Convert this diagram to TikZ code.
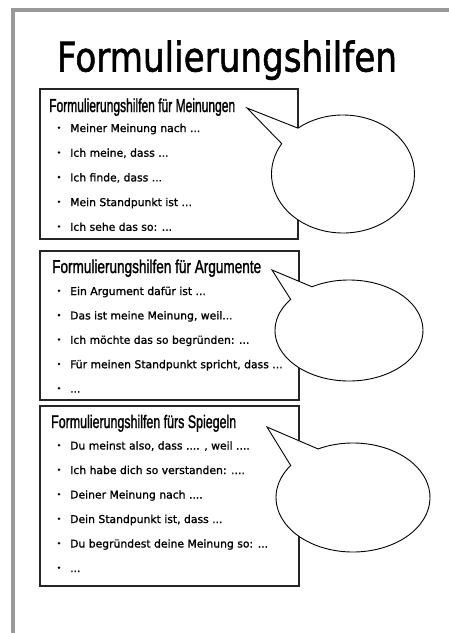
\documentclass[tikz,border=0pt]{standalone}
\usepackage{fontspec}
\usepackage{graphicx}
\setmainfont{DejaVu Sans}
\newfontfamily\headfont[FakeBold=1.6]{Liberation Sans}
\newfontfamily\bodyfont[FakeBold=1.2]{DejaVu Sans}
\newfontfamily\titlefont[FakeBold=1.5]{DejaVu Sans}
% one bullet line: name, baseline y, text
\newcommand\bulletline[3]{%
  \node[bulletdot] (d#1) at (59,#2-4.3) {};
  \node[itemtext] (t#1) at (70,#2) {#3};}
\begin{document}
\begin{tikzpicture}[x=1pt,y=-1pt,
  framebar/.style={fill=black!40, draw=none},
  boxframe/.style={draw=black!85, line width=1.6pt},
  bubble/.style={draw=black, fill=white, line width=0.9pt, line join=miter},
  itemtext/.style={anchor=base west, inner sep=0pt, font=\bodyfont\fontsize{10.8pt}{13pt}\selectfont},
  bulletdot/.style={circle, fill=black, inner sep=0pt, minimum size=2.8pt},
  heading/.style={anchor=base west, inner sep=0pt}]
\useasboundingbox (0,0) rectangle (449,633);
\fill[white] (0,0) rectangle (449,633);
% grey page frame
\fill[framebar] (11,8) rectangle (449,12);
\fill[framebar] (11,8) rectangle (15,633);
% title
\node[heading] (title) at (56.7,71.5) {\resizebox{340pt}{31pt}{\titlefont Formulierungshilfen}};
% boxes
\draw[boxframe] (40,89) rectangle (298,239);
\draw[boxframe] (40,251) rectangle (299,400);
\draw[boxframe] (40,406) rectangle (299,586);
% speech bubbles
\path[bubble] (247,108) -- ({343+71.5*cos(231)},{174+59*sin(231)})
  arc[start angle=231, end angle=571, x radius=71.5, y radius=59] -- cycle;
\path[bubble] (272,270) -- ({349+74*cos(240)},{330.5+50.5*sin(240)})
  arc[start angle=240, end angle=578, x radius=74, y radius=50.5] -- cycle;
\path[bubble] (267,427) -- ({353+77*cos(243)},{497.5+54.5*sin(243)})
  arc[start angle=243, end angle=576, x radius=77, y radius=54.5] -- cycle;
% headings
\node[heading] (h1) at (49,112) {\resizebox{186pt}{13.6pt}{\headfont Formulierungshilfen für Meinungen}};
\node[heading] (h2) at (52,273) {\resizebox{209pt}{13.5pt}{\headfont Formulierungshilfen für Argumente}};
\node[heading] (h3) at (51,428) {\resizebox{185pt}{13.2pt}{\headfont Formulierungshilfen fürs Spiegeln}};
% items box 1
\bulletline{a1}{132}{Meiner Meinung nach ...}
\bulletline{a2}{156.7}{Ich meine, dass ...}
\bulletline{a3}{181.4}{Ich finde, dass ...}
\bulletline{a4}{206.1}{Mein Standpunkt ist ...}
\bulletline{a5}{230.8}{Ich sehe das so: ...}
% items box 2
\bulletline{b1}{295}{Ein Argument dafür ist ...}
\bulletline{b2}{319.4}{Das ist meine Meinung, weil...}
\bulletline{b3}{343.8}{Ich möchte das so begründen: ...}
\bulletline{b4}{368.2}{Für meinen Standpunkt spricht, dass ...}
\bulletline{b5}{392.6}{...}
% items box 3
\bulletline{c1}{449.5}{Du meinst also, dass .... , weil ....}
\bulletline{c2}{474}{Ich habe dich so verstanden: ....}
\bulletline{c3}{498.5}{Deiner Meinung nach ....}
\bulletline{c4}{523}{Dein Standpunkt ist, dass ...}
\bulletline{c5}{547.5}{Du begründest deine Meinung so: ...}
\bulletline{c6}{572}{...}
\end{tikzpicture}
\end{document}
